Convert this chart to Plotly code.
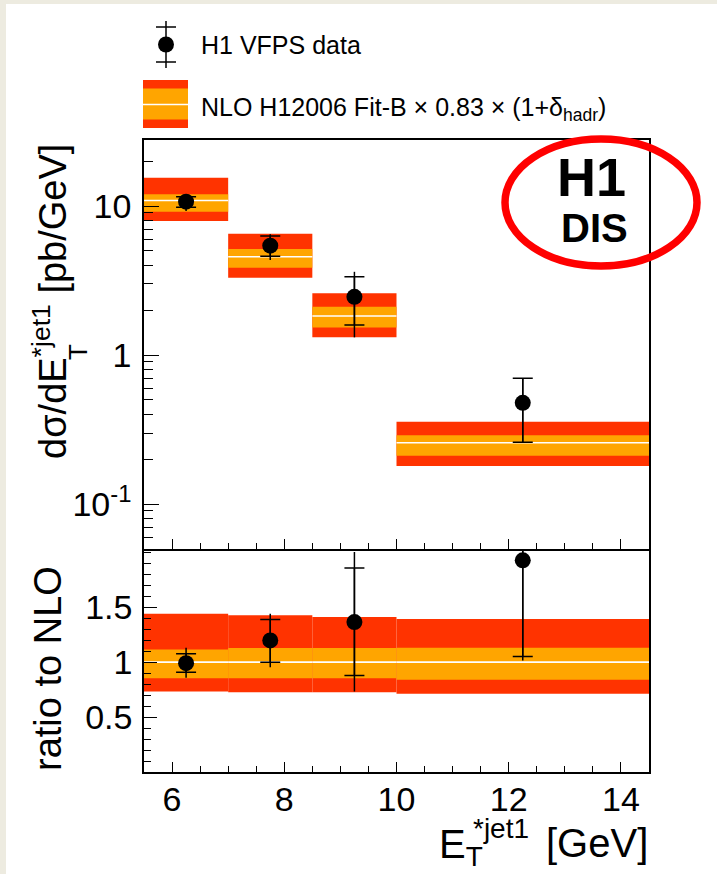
import plotly.graph_objects as go

# ---------------- data ----------------
bin_edges = [5.5, 7.0, 8.5, 10.0, 14.5]
x_centers = [6.25, 7.75, 9.25, 12.25]

xsec = [10.7, 5.42, 2.46, 0.478]
xsec_stat_hi = [11.54, 6.29, 3.35, 0.698]
xsec_stat_lo = [9.80, 4.60, 1.59, 0.260]
xsec_tot_hi = [11.98, 6.46, 3.62, 0.698]
xsec_tot_lo = [9.26, 4.34, 1.315, 0.258]

nlo_central = [10.89, 4.57, 1.83, 0.258]
nlo_inner_hi = [11.98, 5.15, 2.11, 0.290]
nlo_inner_lo = [9.16, 3.85, 1.53, 0.211]
nlo_outer_hi = [15.5, 6.52, 2.60, 0.357]
nlo_outer_lo = [7.93, 3.30, 1.315, 0.180]

ratio = [0.991, 1.198, 1.365, 1.927]
ratio_stat_hi = [1.077, 1.389, 1.857, 2.70]
ratio_stat_lo = [0.909, 1.000, 0.879, 1.052]
ratio_tot_hi = [1.131, 1.441, 2.003, 2.70]
ratio_tot_lo = [0.858, 0.954, 0.733, 1.015]

ratio_central = [1.0, 1.0, 1.0, 1.0]
ratio_inner_hi = [1.116, 1.128, 1.128, 1.131]
ratio_inner_lo = [0.854, 0.854, 0.854, 0.839]
ratio_outer_hi = [1.441, 1.426, 1.410, 1.392]
ratio_outer_lo = [0.733, 0.727, 0.727, 0.712]

x_tickvals = [6, 8, 10, 12, 14]
x_ticktext = ["6", "8", "10", "12", "14"]
top_tickvals = [0.1, 1, 10]
top_ticktext = ["10<sup>-1</sup>", "1", "10"]
bot_tickvals = [0.5, 1.0, 1.5]
bot_ticktext = ["0.5", "1", "1.5"]

legend_data = "H1 VFPS data"
legend_nlo = "NLO H12006 Fit-B \u00d7 0.83 \u00d7 (1+\u03b4<sub>hadr</sub>)"

# ---------------- style ----------------
W, H = 717, 874
FONT = "Liberation Sans"
RED = "#FF3300"
ORANGE = "#FFA500"
BEIGE = "#EDEBE0"

def px(x):
    return x / W

def py(y):
    return 1 - y / H

fig = go.Figure()

def add_band(lo, hi, color, yaxis):
    for i in range(len(lo)):
        x0, x1 = bin_edges[i], bin_edges[i + 1]
        fig.add_trace(go.Scatter(
            x=[x0, x1, x1, x0, x0], y=[lo[i], lo[i], hi[i], hi[i], lo[i]],
            mode="lines", fill="toself", fillcolor=color,
            line=dict(width=0, color=color), hoverinfo="skip",
            showlegend=False, xaxis="x" if yaxis == "y" else "x2", yaxis=yaxis))

def add_central(c, yaxis):
    xs, ys = [], []
    for i in range(len(c)):
        xs += [bin_edges[i], bin_edges[i + 1], None]
        ys += [c[i], c[i], None]
    fig.add_trace(go.Scatter(
        x=xs, y=ys, mode="lines", line=dict(color="white", width=1.6),
        hoverinfo="skip", showlegend=False,
        xaxis="x" if yaxis == "y" else "x2", yaxis=yaxis))

def add_points(y, shi, slo, thi, tlo, yaxis):
    xa = "x" if yaxis == "y" else "x2"
    fig.add_trace(go.Scatter(
        x=x_centers, y=y, mode="markers",
        marker=dict(size=1, color="rgba(0,0,0,0)"),
        error_y=dict(type="data", symmetric=False,
                     array=[a - b for a, b in zip(thi, y)],
                     arrayminus=[b - a for a, b in zip(tlo, y)],
                     width=0, thickness=1.5, color="black"),
        hoverinfo="skip", showlegend=False, xaxis=xa, yaxis=yaxis))
    fig.add_trace(go.Scatter(
        x=x_centers, y=y, mode="markers",
        marker=dict(size=16, color="black"),
        error_y=dict(type="data", symmetric=False,
                     array=[a - b for a, b in zip(shi, y)],
                     arrayminus=[b - a for a, b in zip(slo, y)],
                     width=10, thickness=1.5, color="black"),
        hoverinfo="skip", showlegend=False, xaxis=xa, yaxis=yaxis))

# top panel
add_band(nlo_outer_lo, nlo_outer_hi, RED, "y")
add_band(nlo_inner_lo, nlo_inner_hi, ORANGE, "y")
add_central(nlo_central, "y")
add_points(xsec, xsec_stat_hi, xsec_stat_lo, xsec_tot_hi, xsec_tot_lo, "y")

# bottom panel
add_band(ratio_outer_lo, ratio_outer_hi, RED, "y2")
add_band(ratio_inner_lo, ratio_inner_hi, ORANGE, "y2")
add_central(ratio_central, "y2")
add_points(ratio, ratio_stat_hi, ratio_stat_lo, ratio_tot_hi, ratio_tot_lo, "y2")

xdom = [px(144), px(649)]
top_dom = [py(549), py(140)]
bot_dom = [py(772), py(549)]

axis_common = dict(showline=True, linecolor="black", linewidth=1.5,
                   showgrid=False, zeroline=False, ticks="inside",
                   tickcolor="black", tickwidth=1.3,
                   tickfont=dict(family=FONT, size=34, color="black"))

fig.update_layout(
    width=W, height=H, autosize=False,
    margin=dict(l=0, r=0, t=0, b=0),
    paper_bgcolor=BEIGE, plot_bgcolor="white",
    showlegend=False,
    xaxis=dict(domain=xdom, range=[5.5, 14.5], anchor="y", mirror=True,
               tickvals=x_tickvals, ticktext=x_ticktext, showticklabels=False,
               ticklen=10, minor=dict(dtick=0.5, ticks="inside", ticklen=6,
                                      tickcolor="black", tickwidth=1.3),
               **axis_common),
    yaxis=dict(domain=top_dom, type="log", range=[-1.301, 1.443], anchor="x",
               mirror=True,
               tickvals=top_tickvals, ticktext=top_ticktext, ticklen=15,
               ticklabelstandoff=4,
               minor=dict(tickvals=[0.05, 0.06, 0.07, 0.08, 0.09,
                                    0.2, 0.3, 0.4, 0.5, 0.6, 0.7, 0.8, 0.9,
                                    2, 3, 4, 5, 6, 7, 8, 9, 20],
                          ticks="inside", ticklen=9, tickcolor="black", tickwidth=1.3),
               **axis_common),
    xaxis2=dict(domain=xdom, range=[5.5, 14.5], anchor="y2", matches="x",
                mirror=False,
                tickvals=x_tickvals, ticktext=x_ticktext, ticklen=10,
                ticklabelstandoff=-4,
                minor=dict(dtick=0.5, ticks="inside", ticklen=6,
                           tickcolor="black", tickwidth=1.3),
                **axis_common),
    yaxis2=dict(domain=bot_dom, range=[0, 2.03], anchor="x2", mirror=True,
                tickvals=bot_tickvals, ticktext=bot_ticktext, ticklen=13,
                ticklabelstandoff=3,
                minor=dict(dtick=0.1, tick0=0, ticks="inside", ticklen=7,
                           tickcolor="black", tickwidth=1.3),
                **axis_common),
)

shapes = [
    # white page area (beige strip left/top)
    dict(type="rect", xref="paper", yref="paper", x0=px(6), x1=px(W + 5),
         y0=py(H + 5), y1=py(4), fillcolor="white", line=dict(width=0), layer="below"),
    # legend: data marker with error bars
    dict(type="line", xref="paper", yref="paper", x0=px(166), x1=px(166),
         y0=py(21), y1=py(68), line=dict(color="black", width=1.5)),
    dict(type="line", xref="paper", yref="paper", x0=px(156), x1=px(176),
         y0=py(27), y1=py(27), line=dict(color="black", width=1.5)),
    dict(type="line", xref="paper", yref="paper", x0=px(156), x1=px(176),
         y0=py(62), y1=py(62), line=dict(color="black", width=1.5)),
    dict(type="circle", xref="paper", yref="paper", x0=px(158), x1=px(174),
         y0=py(52.5), y1=py(36.5), fillcolor="black", line=dict(width=0)),
    # legend: NLO band box
    dict(type="rect", xref="paper", yref="paper", x0=px(143), x1=px(188),
         y0=py(128), y1=py(80), fillcolor=RED, line=dict(width=0)),
    dict(type="rect", xref="paper", yref="paper", x0=px(143), x1=px(188),
         y0=py(119.5), y1=py(88.5), fillcolor=ORANGE, line=dict(width=0)),
    dict(type="line", xref="paper", yref="paper", x0=px(143), x1=px(188),
         y0=py(104.5), y1=py(104.5), line=dict(color="white", width=1.6)),
    # red ellipse around H1 DIS
    dict(type="circle", xref="paper", yref="paper", x0=px(505), x1=px(697),
         y0=py(266), y1=py(139), line=dict(color="#FF0000", width=7.5)),
]
fig.update_layout(shapes=shapes)

def ann(text, x, y, size, xanchor="left", yanchor="middle", angle=0):
    return dict(text=text, x=px(x), y=py(y), xref="paper", yref="paper",
                xanchor=xanchor, yanchor=yanchor, showarrow=False, textangle=angle,
                font=dict(family=FONT, size=size, color="black"))

annotations = [
    ann(legend_data, 199, 45, 25),
    ann(legend_nlo, 199, 109, 25),
    ann("<b>H1</b>", 591, 177, 54, xanchor="center"),
    ann("<b>DIS</b>", 594, 228, 40, xanchor="center"),
    # y title top panel
    ann("d\u03c3/dE<sup>*jet1</sup> [pb/GeV]", 50, 302, 38, xanchor="center", angle=-90),
    ann("T", 78, 352, 26, xanchor="center", angle=-90),
    # y title bottom panel
    ann("ratio to NLO", 48, 668, 38, xanchor="center", angle=-90),
    # x title
    ann("[GeV]", 650, 843, 40, xanchor="right"),
    ann("E<sub>T</sub>", 437, 874, 40, xanchor="left", yanchor="bottom"),
    ann("*jet1", 471, 828, 28, xanchor="left"),
]
fig.update_layout(annotations=annotations)

fig.write_html("out.html")
